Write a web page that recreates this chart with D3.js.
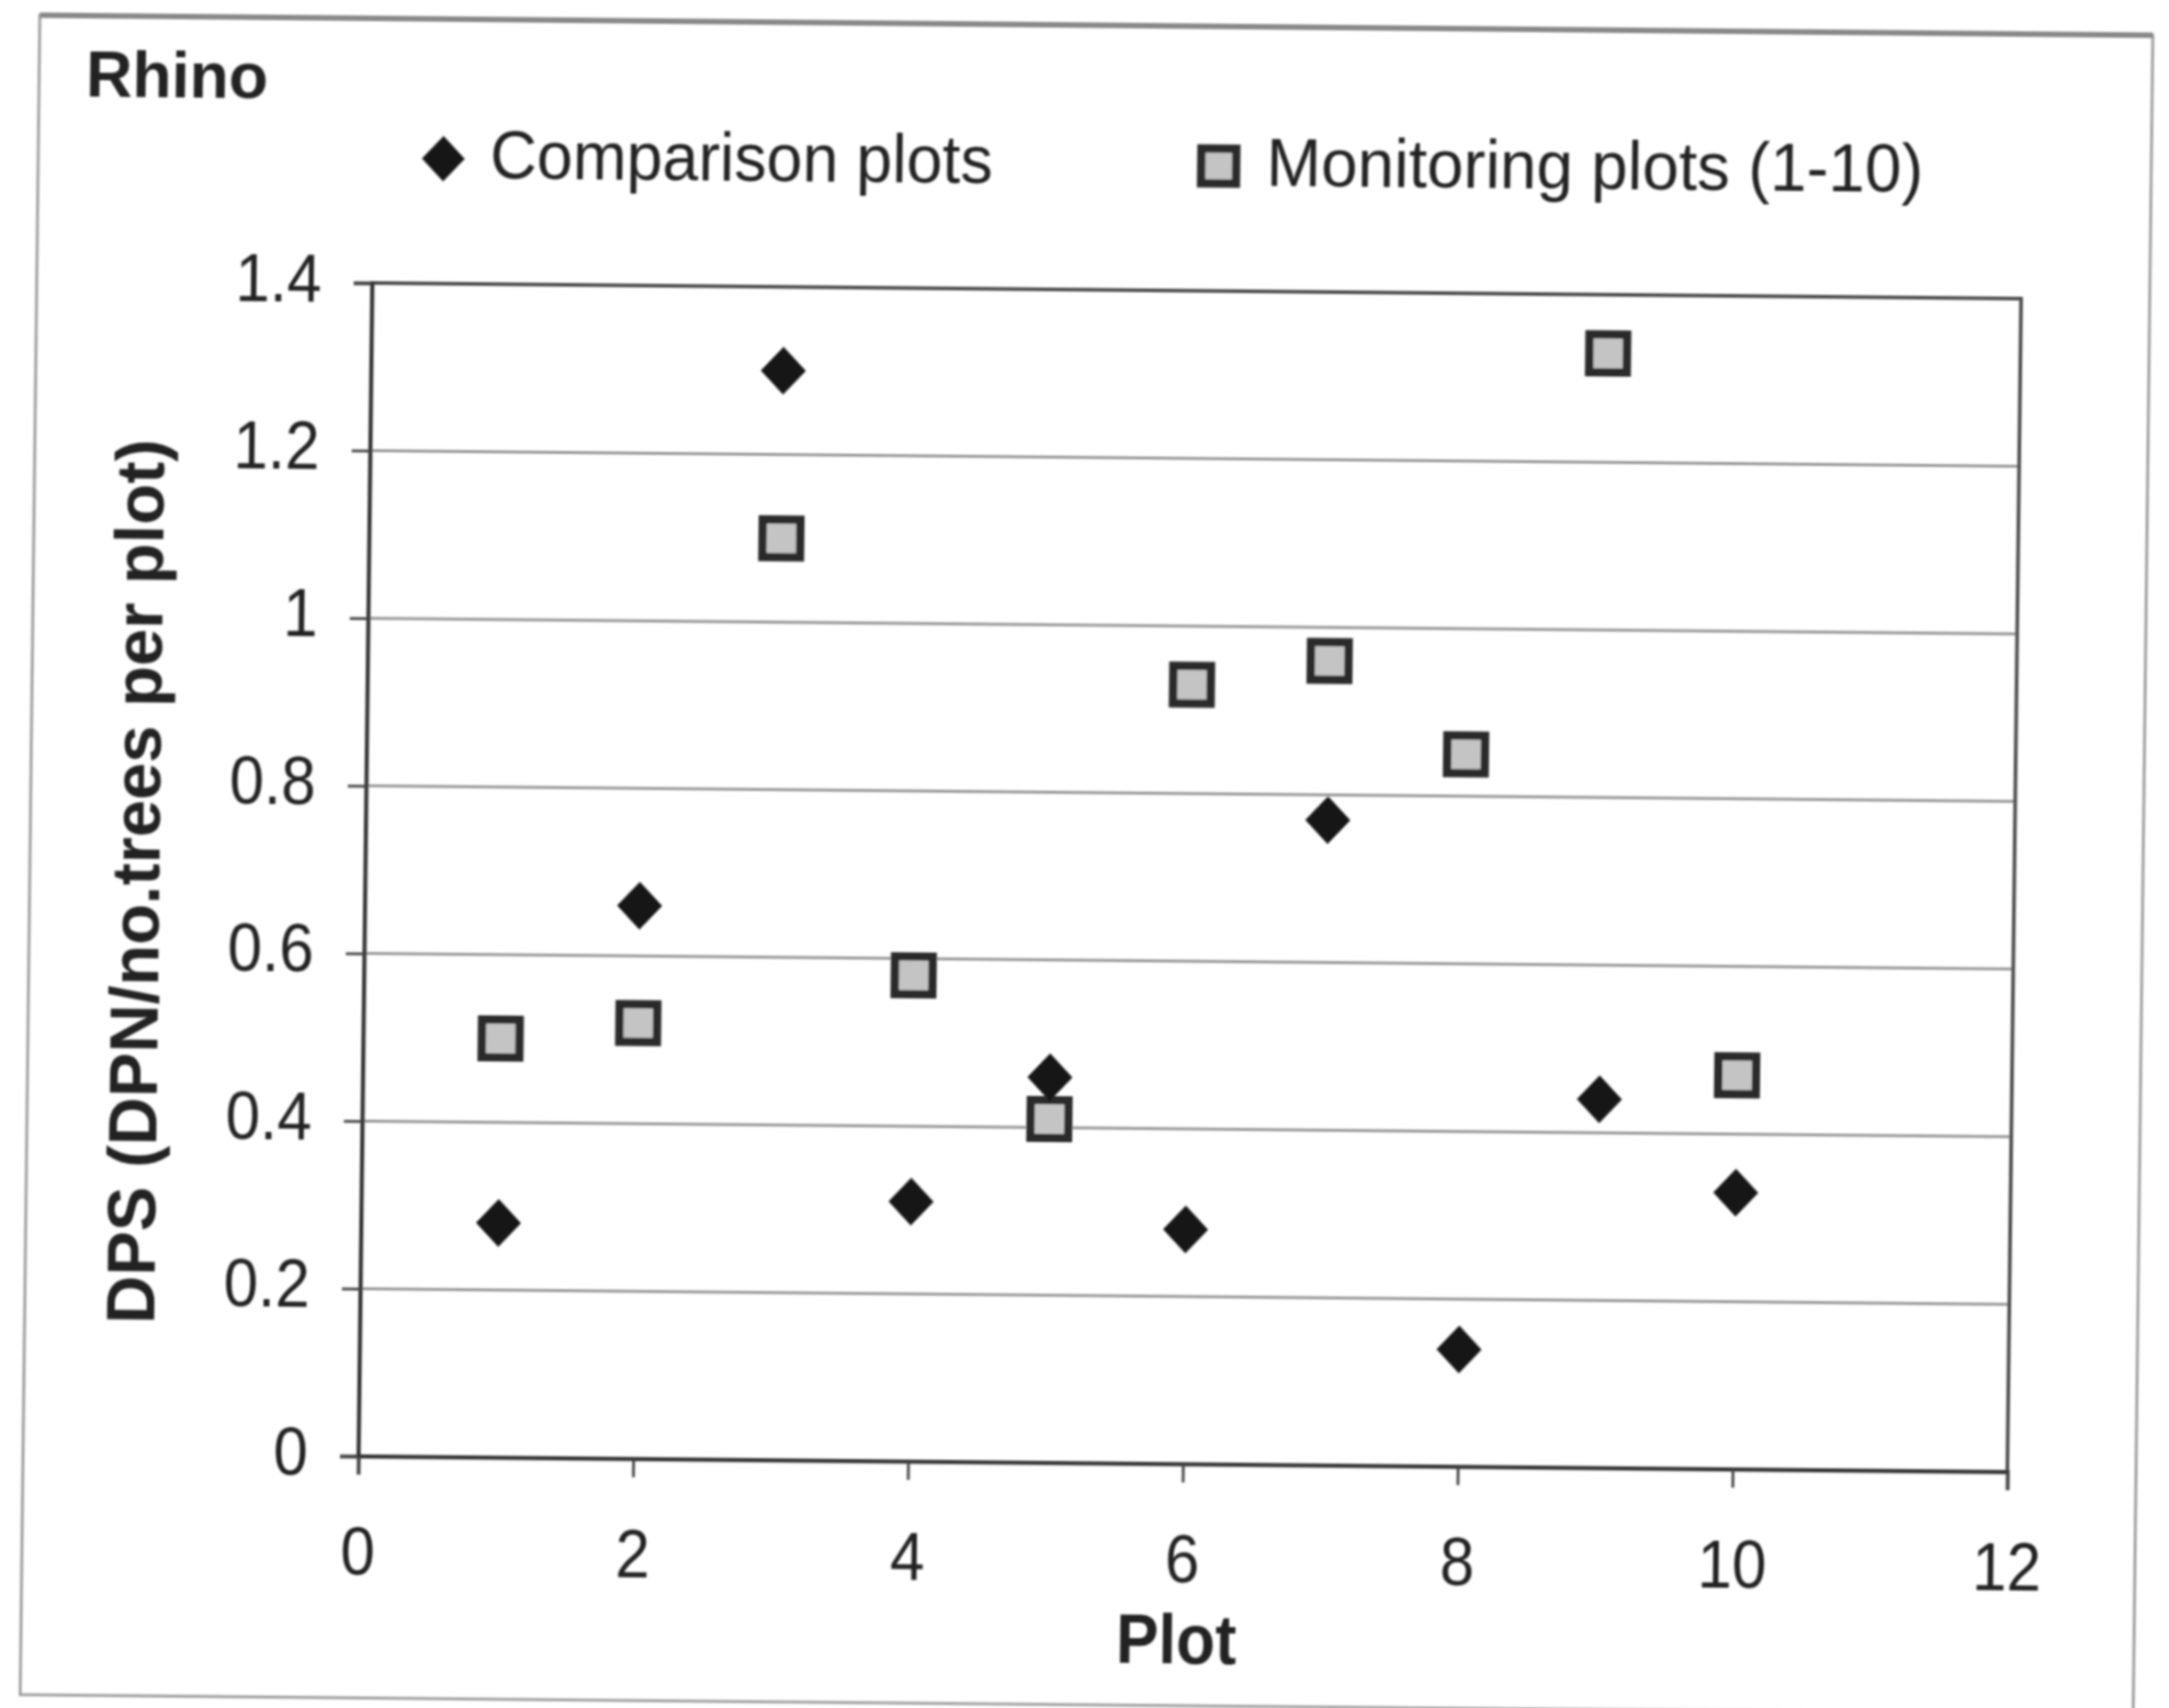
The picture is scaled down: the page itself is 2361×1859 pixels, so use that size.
<!DOCTYPE html>
<html>
<head>
<meta charset="utf-8">
<script src="https://cdn.jsdelivr.net/npm/d3@7"></script>
<style>
  html, body { margin: 0; padding: 0; background: #fff; }
  svg { display: block; }
</style>
</head>
<body>
<script>
// Rhino: DPS per plot for comparison and monitoring plots
const plots = [1, 2, 3, 4, 5, 6, 7, 8, 9, 10];
const comparison = [0.28, 0.66, 1.30, 0.31, 0.46, 0.28, 0.77, 0.14, 0.44, 0.33];
const monitoring = [0.50, 0.52, 1.10, 0.58, 0.41, 0.93, 0.96, 0.85, 1.33, 0.47];
const xTicks = [0, 2, 4, 6, 8, 10, 12];
const yTicks = [0, 0.2, 0.4, 0.6, 0.8, 1.0, 1.2, 1.4];
const yTickLabels = ["0", "0.2", "0.4", "0.6", "0.8", "1", "1.2", "1.4"];
const seriesNames = ["Comparison plots", "Monitoring plots (1-10)"];

const width = 2361, height = 1859;
const plotLeft = 405, plotTop = 308, W = 1795, H = 1277;
const FONT = "'Liberation Sans', Arial, Helvetica, sans-serif";

const svg = d3.select("body").append("svg")
  .attr("width", width).attr("height", height);

svg.append("rect").attr("width", width).attr("height", height).attr("fill", "#fff");

const defs = svg.append("defs");
defs.append("filter").attr("id", "soft")
  .attr("x", "-5%").attr("y", "-5%").attr("width", "110%").attr("height", "110%")
  .append("feGaussianBlur").attr("stdDeviation", 1.3);

// the printed page sits slightly askew
const page = svg.append("g")
  .attr("transform", "matrix(1,0.0095,-0.0117,1,3.6,-3.85)")
  .attr("filter", "url(#soft)");

// outer chart border
page.append("rect")
  .attr("x", 40).attr("y", 20).attr("width", 2300).attr("height", 1828)
  .attr("fill", "none").attr("stroke", "#9a9a9a").attr("stroke-width", 3);
page.append("line")
  .attr("x1", 40).attr("x2", 2340).attr("y1", 20).attr("y2", 20)
  .attr("stroke", "#888").attr("stroke-width", 6);

const x = d3.scaleLinear().domain([0, 12]).range([0, W]);
const y = d3.scaleLinear().domain([0, 1.4]).range([H, 0]);

const g = page.append("g").attr("transform", `translate(${plotLeft},${plotTop})`);

// horizontal gridlines
g.selectAll("line.grid")
  .data(yTicks.filter(v => v > 0 && v < 1.4))
  .join("line").attr("class", "grid")
  .attr("x1", 0).attr("x2", W)
  .attr("y1", d => y(d)).attr("y2", d => y(d))
  .attr("stroke", "#929292").attr("stroke-width", 3);

// plot frame
g.append("rect")
  .attr("x", 0).attr("y", 0).attr("width", W).attr("height", H)
  .attr("fill", "none").attr("stroke", "#4d4d4d").attr("stroke-width", 4);

// y axis
const yAxis = g.append("g")
  .call(d3.axisLeft(y).tickValues(yTicks).tickSize(20)
    .tickFormat((d, i) => yTickLabels[i]));
yAxis.select(".domain").attr("stroke", "#333").attr("stroke-width", 4);
yAxis.selectAll(".tick line").attr("stroke", "#444").attr("stroke-width", 3);
yAxis.selectAll(".tick text")
  .attr("x", -55 / 0.9).attr("y", 20).attr("dy", null)
  .attr("transform", "scale(0.9,1)")
  .attr("font-family", FONT).attr("font-size", 75).attr("fill", "#222");

// x axis
const xAxis = g.append("g").attr("transform", `translate(0,${H})`)
  .call(d3.axisBottom(x).tickValues(xTicks).tickSize(20).tickFormat(d3.format("d")));
xAxis.select(".domain").attr("stroke", "#333").attr("stroke-width", 4);
xAxis.selectAll(".tick line").attr("stroke", "#444").attr("stroke-width", 3);
xAxis.selectAll(".tick text")
  .attr("y", 129).attr("dy", null)
  .attr("transform", "scale(0.9,1)")
  .attr("font-family", FONT).attr("font-size", 75).attr("fill", "#222");

// axis titles
g.append("text")
  .attr("x", W / 2 - 5).attr("y", H + 217)
  .attr("text-anchor", "middle")
  .attr("font-family", FONT).attr("font-weight", "bold").attr("font-size", 76)
  .attr("textLength", 131).attr("lengthAdjust", "spacingAndGlyphs")
  .attr("fill", "#222").text("Plot");

g.append("text")
  .attr("transform", `translate(${181 - plotLeft},${962 - plotTop}) rotate(-90)`)
  .attr("text-anchor", "middle")
  .attr("font-family", FONT).attr("font-weight", "bold").attr("font-size", 74)
  .attr("textLength", 963).attr("lengthAdjust", "spacingAndGlyphs")
  .attr("fill", "#222").text("DPS (DPN/no.trees per plot)");

// markers
const diamond = "M0,-26L24.5,0L0,26L-24.5,0Z";
const squareSym = d3.symbol().type(d3.symbolSquare).size(41 * 41);

g.append("g").selectAll("path")
  .data(plots.map((p, i) => ({ plot: p, value: monitoring[i] })))
  .join("path")
  .attr("d", squareSym())
  .attr("transform", d => `translate(${x(d.plot)},${y(d.value)})`)
  .attr("fill", "#c4c4c4").attr("stroke", "#2a2a2a").attr("stroke-width", 9);

g.append("g").selectAll("path")
  .data(plots.map((p, i) => ({ plot: p, value: comparison[i] })))
  .join("path")
  .attr("d", diamond)
  .attr("transform", d => `translate(${x(d.plot)},${y(d.value)})`)
  .attr("fill", "#151515");

// chart title
page.append("text")
  .attr("x", 91).attr("y", 108)
  .attr("font-family", FONT).attr("font-weight", "bold").attr("font-size", 70)
  .attr("fill", "#222").text("Rhino");

// legend
const legend = page.append("g");
legend.append("path").attr("d", diamond)
  .attr("transform", "translate(481,172) scale(0.95)")
  .attr("fill", "#151515");
legend.append("text")
  .attr("x", 532).attr("y", 193)
  .attr("font-family", FONT).attr("font-size", 74)
  .attr("textLength", 547).attr("lengthAdjust", "spacingAndGlyphs")
  .attr("fill", "#222").text(seriesNames[0]);
legend.append("path").attr("d", d3.symbol().type(d3.symbolSquare).size(38 * 38)())
  .attr("transform", "translate(1325,172)")
  .attr("fill", "#c4c4c4").attr("stroke", "#2a2a2a").attr("stroke-width", 9);
legend.append("text")
  .attr("x", 1377).attr("y", 193)
  .attr("font-family", FONT).attr("font-size", 74)
  .attr("textLength", 715).attr("lengthAdjust", "spacingAndGlyphs")
  .attr("fill", "#222").text(seriesNames[1]);
</script>
</body>
</html>
